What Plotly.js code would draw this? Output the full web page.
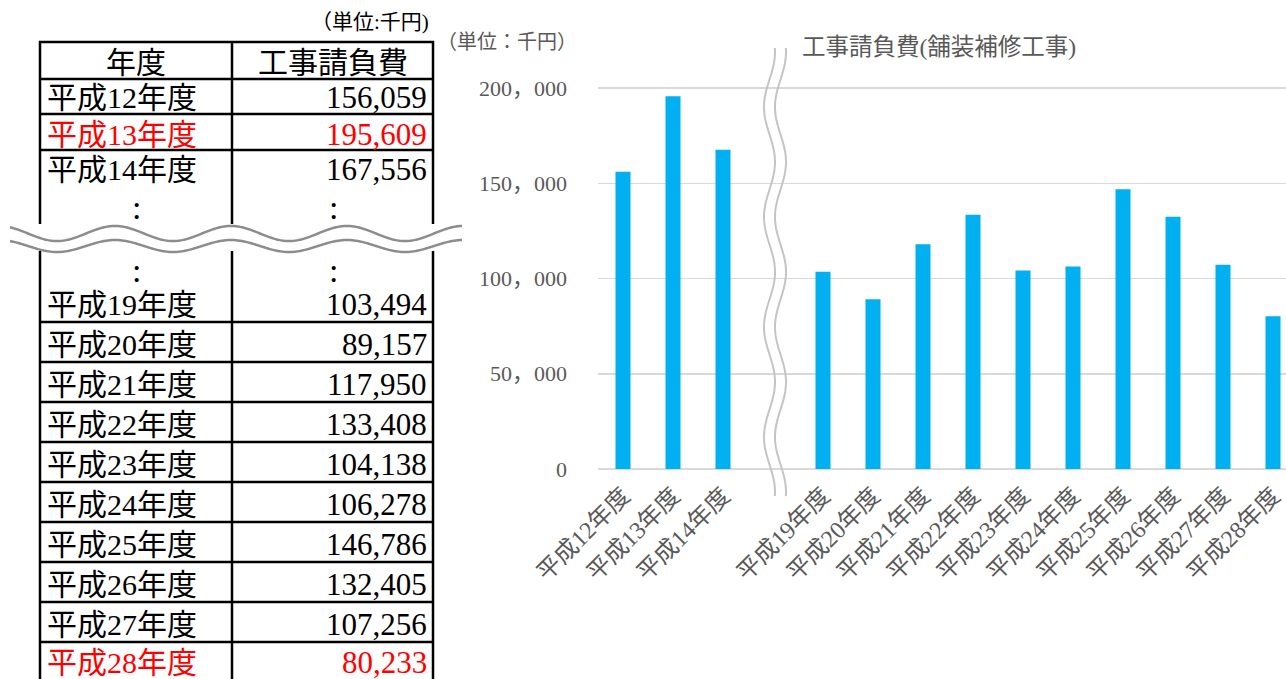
<!DOCTYPE html>
<html><head><meta charset="utf-8">
<script src="https://cdn.plot.ly/plotly-3.0.1.min.js"></script>
<style>html,body{margin:0;padding:0;background:#fff;}#chart{width:1286px;height:679px;}</style>
</head><body><div id="chart"></div>
<script>
// ---- data ----
const years = ['平成12年度','平成13年度','平成14年度','平成19年度','平成20年度','平成21年度','平成22年度','平成23年度','平成24年度','平成25年度','平成26年度','平成27年度','平成28年度'];
const costs = [156059,195609,167556,103494,89157,117950,133408,104138,106278,146786,132405,107256,80233];
const redYears = ['平成13年度','平成28年度'];
const gapAfter = '平成14年度';
const gapLabel = ' ';
const yTickVals = [0,50000,100000,150000,200000];
const yTickLabels = ['0','50，000','100，000','150，000','200，000'];
const chartTitle = '工事請負費(舗装補修工事)';
const chartUnit = '（単位：千円）';
const tableUnit = '（単位:千円)';
const tableHead = ['年度','工事請負費'];

// build chart categories with a break gap
const xCats = [], yVals = [];
years.forEach((y,i)=>{ xCats.push(y); yVals.push(costs[i]); if(y===gapAfter){ xCats.push(gapLabel); yVals.push(null);} });

const W=1286,H=679;
const plotTop=40, plotBot=469, plotL=598, catW=50;
const PX=x=>(x-plotL)/(W-plotL);           // pixel -> paper x
const PY=y=>(plotBot-y)/(plotBot-plotTop);  // pixel -> paper y
const FONT='"Liberation Serif","Noto Sans CJK JP",serif';
const shapes=[], ann=[];
function line(x0,y0,x1,y1,c,w){shapes.push({type:'line',xref:'paper',yref:'paper',x0:PX(x0),y0:PY(y0),x1:PX(x1),y1:PY(y1),line:{color:c,width:w},layer:'above'});}
function txt(x,y,t,o){ann.push(Object.assign({xref:'paper',yref:'paper',x:PX(x),y:PY(y),text:t,showarrow:false,font:{family:FONT,size:30,color:'#000'},xanchor:'center',yanchor:'middle'},o||{}));}

// table grid
const colX=[40,232,433];
const topRows=[42,79,114,150];
const botRows=[322,362,402,442,482,522,562,602,642];
colX.forEach(x=>{ line(x,41,x,224,'#000',2.5); line(x,251,x,H+2,'#000',2.5); });
topRows.concat(botRows).forEach(y=>line(colX[0]-1,y,colX[2]+1,y,'#000',2.5));

// table text
txt(136,62,tableHead[0]); txt(333,62,tableHead[1]);
txt(431,22,tableUnit,{xanchor:'right',font:{family:FONT,size:21,color:'#000'}});
const fmt=v=>v.toLocaleString('en-US');
const rowY=[98,134,170,304,344,384,424,464,504,544,584,624,662];
years.forEach((y,i)=>{
  const c = redYears.includes(y)?'#ff0000':'#000';
  txt(45,rowY[i],y,{xanchor:'left',font:{family:FONT,size:30,color:c}});
  txt(429,rowY[i],fmt(costs[i]),{xanchor:'right',font:{family:FONT,size:31,color:c}});
});
// continuation colons
[[136,208],[333,208],[136,270],[333,270]].forEach(p=>txt(p[0],p[1],':',{font:{family:FONT,size:34,color:'#000'}}));

// table wave break
const toPath=pts=>pts.map((p,i)=>(i?'L':'M')+PX(p[0]).toFixed(5)+','+PY(p[1]).toFixed(5)).join(' ');
function wavePts(x0,x1,c,a,ph,per){const p=[];for(let x=x0;x<=x1;x+=2){p.push([x,c-a*Math.cos(2*Math.PI*(x-ph)/per)]);}return p;}
const up=wavePts(10,462,233.5,7.5,115,116), lo=wavePts(10,462,246,6,115,116);
shapes.push({type:'path',xref:'paper',yref:'paper',path:toPath(up)+' '+toPath(lo.slice().reverse()).replace('M','L')+' Z',fillcolor:'#fff',line:{width:0},layer:'above'});
shapes.push({type:'path',xref:'paper',yref:'paper',path:toPath(up),line:{color:'#8c8c8c',width:2.5},layer:'above'});
shapes.push({type:'path',xref:'paper',yref:'paper',path:toPath(lo),line:{color:'#8c8c8c',width:2.5},layer:'above'});

// chart wave break
function vwave(y0,y1,cx,a,ph,per){const p=[];for(let y=y0;y<=y1;y+=2){p.push([cx+a*Math.cos(2*Math.PI*(y-ph)/per),y]);}return p;}
shapes.push({type:'path',xref:'paper',yref:'paper',path:toPath(vwave(48,496,769.5,5.5,52,110)),line:{color:'#c4c4c4',width:2},layer:'above'});
shapes.push({type:'path',xref:'paper',yref:'paper',path:toPath(vwave(48,496,780.5,5.5,52,110)),line:{color:'#c4c4c4',width:2},layer:'above'});

// chart texts
txt(800,47,chartTitle,{xanchor:'left',font:{family:FONT,size:23.5,color:'#595959'}});
txt(507,42,chartUnit,{font:{family:FONT,size:20,color:'#595959'}});

const yMax=(plotBot-plotTop)/(plotBot-88)*200000;
const xMax=(W-plotL)/catW-0.5;

const data=[{type:'bar',x:xCats,y:yVals,marker:{color:'#00B0F0'},width:0.3,hoverinfo:'x+y'}];
const layout={
  width:W,height:H,margin:{l:plotL,r:0,t:plotTop,b:H-plotBot,autoexpand:false},paper_bgcolor:'#fff',plot_bgcolor:'#fff',showlegend:false,
  font:{family:FONT,color:'#595959'},
  xaxis:{type:'category',range:[-0.5,xMax],tickangle:-45,showgrid:false,zeroline:false,showline:false,ticks:'',automargin:false,
    tickfont:{family:FONT,size:24,color:'#595959'},ticklabelstandoff:7,categoryorder:'array',categoryarray:xCats},
  yaxis:{range:[0,yMax],tickvals:yTickVals,ticktext:yTickLabels,showgrid:true,gridcolor:'#d9d9d9',gridwidth:1.5,automargin:false,
    zeroline:true,zerolinecolor:'#d9d9d9',zerolinewidth:1.5,showline:false,ticks:'',tickfont:{family:FONT,size:22,color:'#595959'},ticklabelstandoff:30},
  shapes:shapes,annotations:ann
};
Plotly.newPlot('chart',data,layout,{displayModeBar:false,staticPlot:true});
</script></body></html>
